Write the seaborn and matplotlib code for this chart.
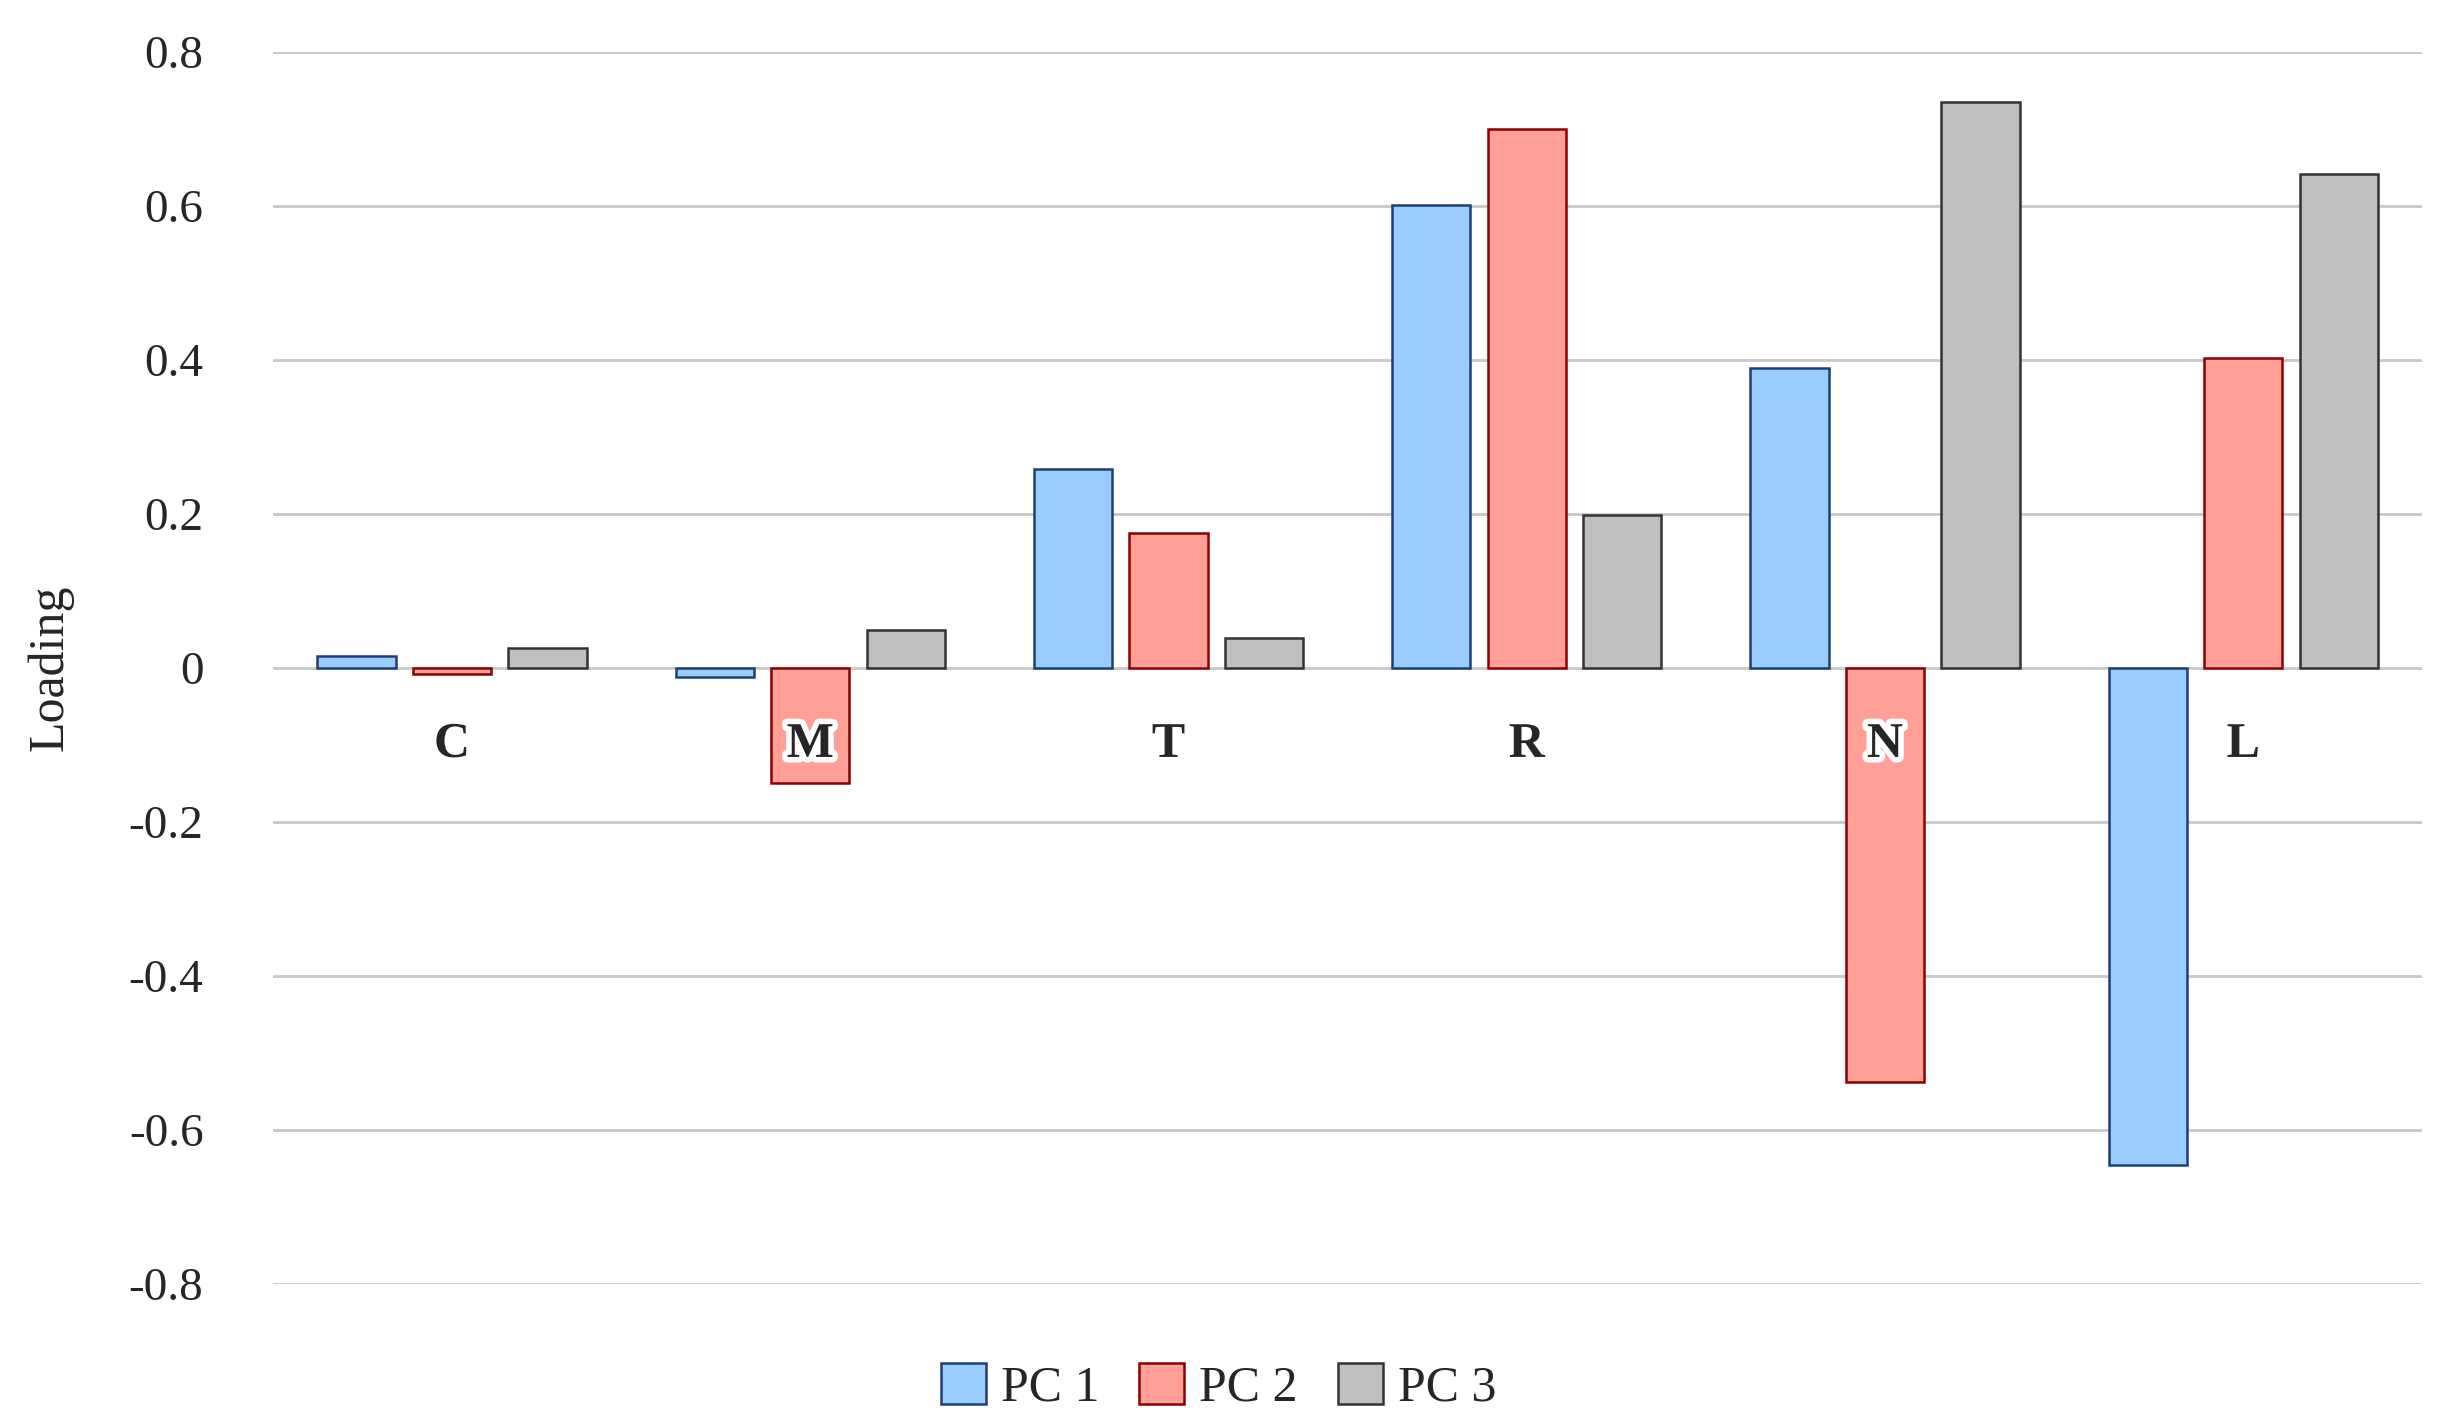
import matplotlib
matplotlib.use("Agg")
import matplotlib.pyplot as plt
import matplotlib.patheffects as pe
import seaborn as sns
import pandas as pd

categories = ["C", "M", "T", "R", "N", "L"]
pc1 = [0.016, -0.012, 0.258, 0.601, 0.390, -0.646]
pc2 = [-0.008, -0.150, 0.175, 0.700, -0.538, 0.402]
pc3 = [0.026, 0.049, 0.039, 0.199, 0.735, 0.642]
series = ["PC 1", "PC 2", "PC 3"]

rows = []
for name, vals in zip(series, [pc1, pc2, pc3]):
    for c, v in zip(categories, vals):
        rows.append({"cat": c, "series": name, "val": v})
df = pd.DataFrame(rows)

sns.set_style("white")
plt.rcParams["font.family"] = ["Liberation Serif", "DejaVu Serif"]

fig = plt.figure(figsize=(24.37, 14.26), dpi=100)
ax = fig.add_axes([0.112, 0.0996, 0.882, 0.864])
fills = ["#99CCFF", "#FF9F95", "#BFBFBF"]
edges = ["#1F3F6F", "#8B0000", "#333333"]
sns.barplot(data=df, x="cat", y="val", hue="series", palette=fills, saturation=1,
            width=0.8, gap=0.18, ax=ax, legend=False, zorder=3)
for i, cont in enumerate(ax.containers):
    for p in cont:
        p.set_edgecolor(edges[i]); p.set_linewidth(1.8)

ax.set_ylim(-0.8, 0.8)
ax.set_yticks([-0.8, -0.6, -0.4, -0.2, 0, 0.2, 0.4, 0.6, 0.8])
ax.set_yticklabels(["-0.8", "-0.6", "-0.4", "-0.2", "0", "0.2", "0.4", "0.6", "0.8"], fontsize=34)
ax.yaxis.grid(True, color="#C8C8C8", linewidth=2, zorder=0)
ax.set_xticks([])
ax.set_xlabel("")
ax.set_ylabel("Loading", fontsize=36, labelpad=40)
for s in ax.spines.values():
    s.set_visible(False)
ax.tick_params(axis="y", length=0, pad=50)
for lbl in ax.get_yticklabels():
    lbl.set_horizontalalignment("right")
ax.set_xlim(-0.5, 5.5)
for i, c in enumerate(categories):
    ax.text(i, -0.1, c, ha="center", va="center", fontsize=36, fontweight="bold",
            zorder=5, path_effects=[pe.withStroke(linewidth=8, foreground="white")])

handles = [plt.Rectangle((0, 0), 1, 1, facecolor=f, edgecolor=e, linewidth=1.8)
           for f, e in zip(fills, edges)]
fig.legend(handles, series, loc="center", bbox_to_anchor=(0.5, 0.027), ncol=3,
           frameon=False, fontsize=36, handlelength=0.9, handleheight=0.9,
           handletextpad=0.3, columnspacing=0.8)
fig.savefig("out.png", dpi=100)
